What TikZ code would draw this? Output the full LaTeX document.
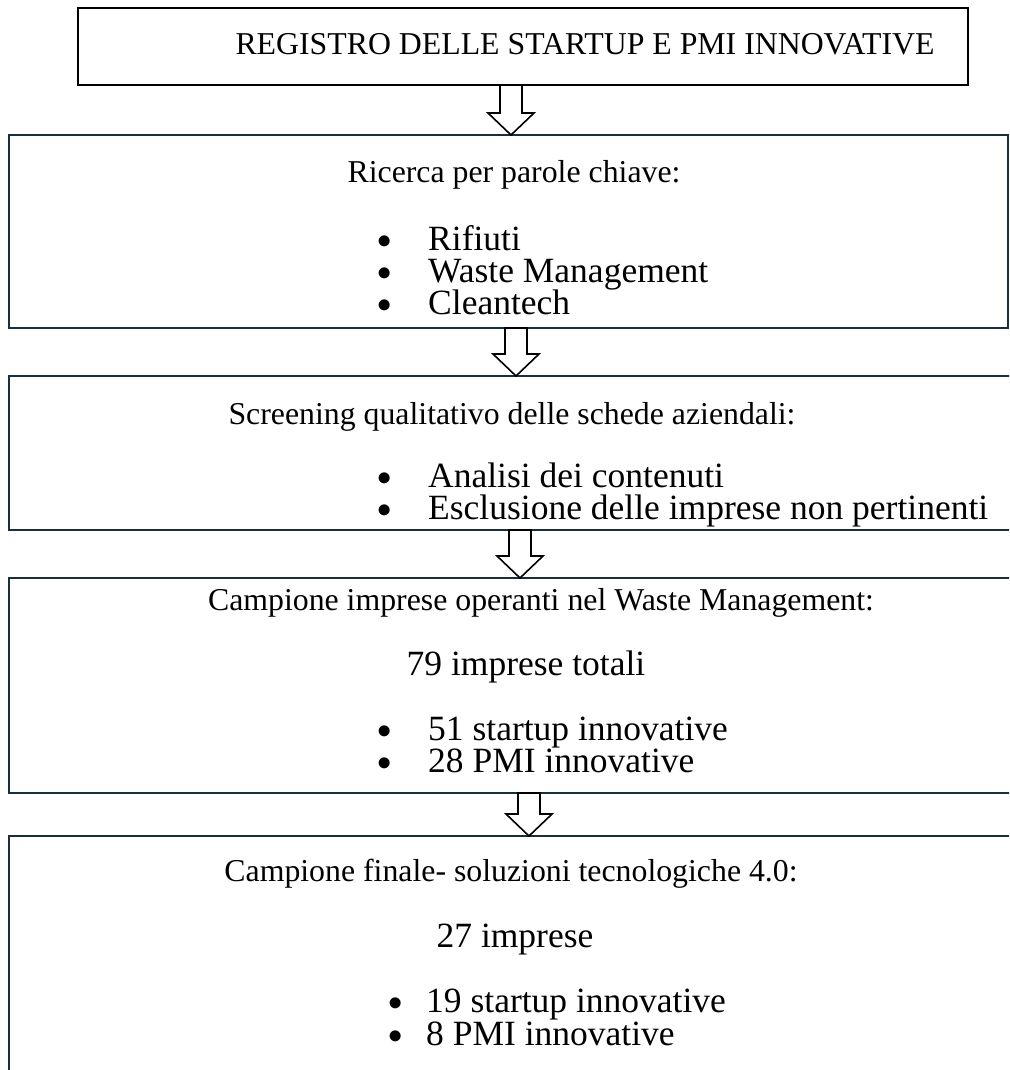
\documentclass[tikz,border=0pt]{standalone}
\usepackage{fontspec}
\setmainfont{Liberation Serif}
\usepackage{graphicx}
\usetikzlibrary{calc}
\definecolor{boxline}{HTML}{1A2F3C}

\newcommand{\bul}[1][51pt]{\llap{\makebox[#1][l]{\raisebox{0.04em}{\scalebox{1.15}{$\bullet$}}}}}
% hollow block arrow from the bottom of one box to the top of the next
\newcommand{\downblock}[3]{%
  \draw[blockarrow] let \p1=(#1.south), \p2=(#2.north) in
    (#3pt-11pt,\y1) -- (#3pt+11pt,\y1) -- (#3pt+11pt,\y2+22pt)
    -- (#3pt+23pt,\y2+22pt) -- (#3pt,\y2) -- (#3pt-23pt,\y2+22pt)
    -- (#3pt-11pt,\y2+22pt) -- cycle;}

\begin{document}
\begin{tikzpicture}[x=1pt,y=-1pt,
  font=\fontsize{35.5}{40}\selectfont,
  flowbox/.style={draw=boxline, line width=2.2pt, outer sep=0pt, inner sep=0pt, anchor=north west},
  headline/.style={anchor=base, inner sep=0pt, font=\fontsize{31.8}{36}\selectfont},
  count/.style={anchor=base, inner sep=0pt},
  entry/.style={anchor=base west, inner sep=0pt},
  blockarrow/.style={draw=black, fill=white, line width=1.6pt, line join=miter}]

  \useasboundingbox (0,0) rectangle (1009,1070);
  \clip (0,0) rectangle (1009,1070);

  % boxes
  \node[flowbox, draw=black, line width=1.8pt, minimum width=890pt, minimum height=77pt] (reg) at (78,8) {};
  \node[flowbox, minimum width=999pt, minimum height=193pt] (kw) at (9,135) {};
  \node[flowbox, minimum width=1030pt, minimum height=154pt] (scr) at (9,376) {};
  \node[flowbox, minimum width=1030pt, minimum height=215pt] (camp) at (9,578) {};
  \node[flowbox, minimum width=1030pt, minimum height=300pt] (fin) at (9,836) {};

  % texts
  \node[headline] (regtxt) at (585,55) {REGISTRO DELLE STARTUP E PMI INNOVATIVE};

  \node[headline] (kwtxt) at (514,182) {Ricerca per parole chiave:};
  \foreach \txt [count=\i] in {Rifiuti, Waste Management, Cleantech}
    \node[entry] (kw\i) at (428,218+32*\i) {\bul\txt};

  \node[headline] (scrtxt) at (512,424) {Screening qualitativo delle schede aziendali:};
  \node[entry] (scr1) at (428,487) {\bul Analisi dei contenuti};
  \node[entry] (scr2) at (428,519) {\bul Esclusione delle imprese non pertinenti};

  \node[headline] (camptxt) at (541,610) {Campione imprese operanti nel Waste Management:};
  \node[count] (camptot) at (526,675) {79 imprese totali};
  \node[entry] (camp1) at (428,740) {\bul 51 startup innovative};
  \node[entry] (camp2) at (428,772) {\bul 28 PMI innovative};

  \node[headline] (fintxt) at (511,881) {Campione finale- soluzioni tecnologiche 4.0:};
  \node[count] (fintot) at (515,947) {27 imprese};
  \node[entry] (fin1) at (426,1012) {\bul[38pt]19 startup innovative};
  \node[entry] (fin2) at (426,1045) {\bul[38pt]8 PMI innovative};

  % arrows
  \downblock{reg}{kw}{511}
  \downblock{kw}{scr}{516}
  \downblock{scr}{camp}{520}
  \downblock{camp}{fin}{529}
\end{tikzpicture}
\end{document}
